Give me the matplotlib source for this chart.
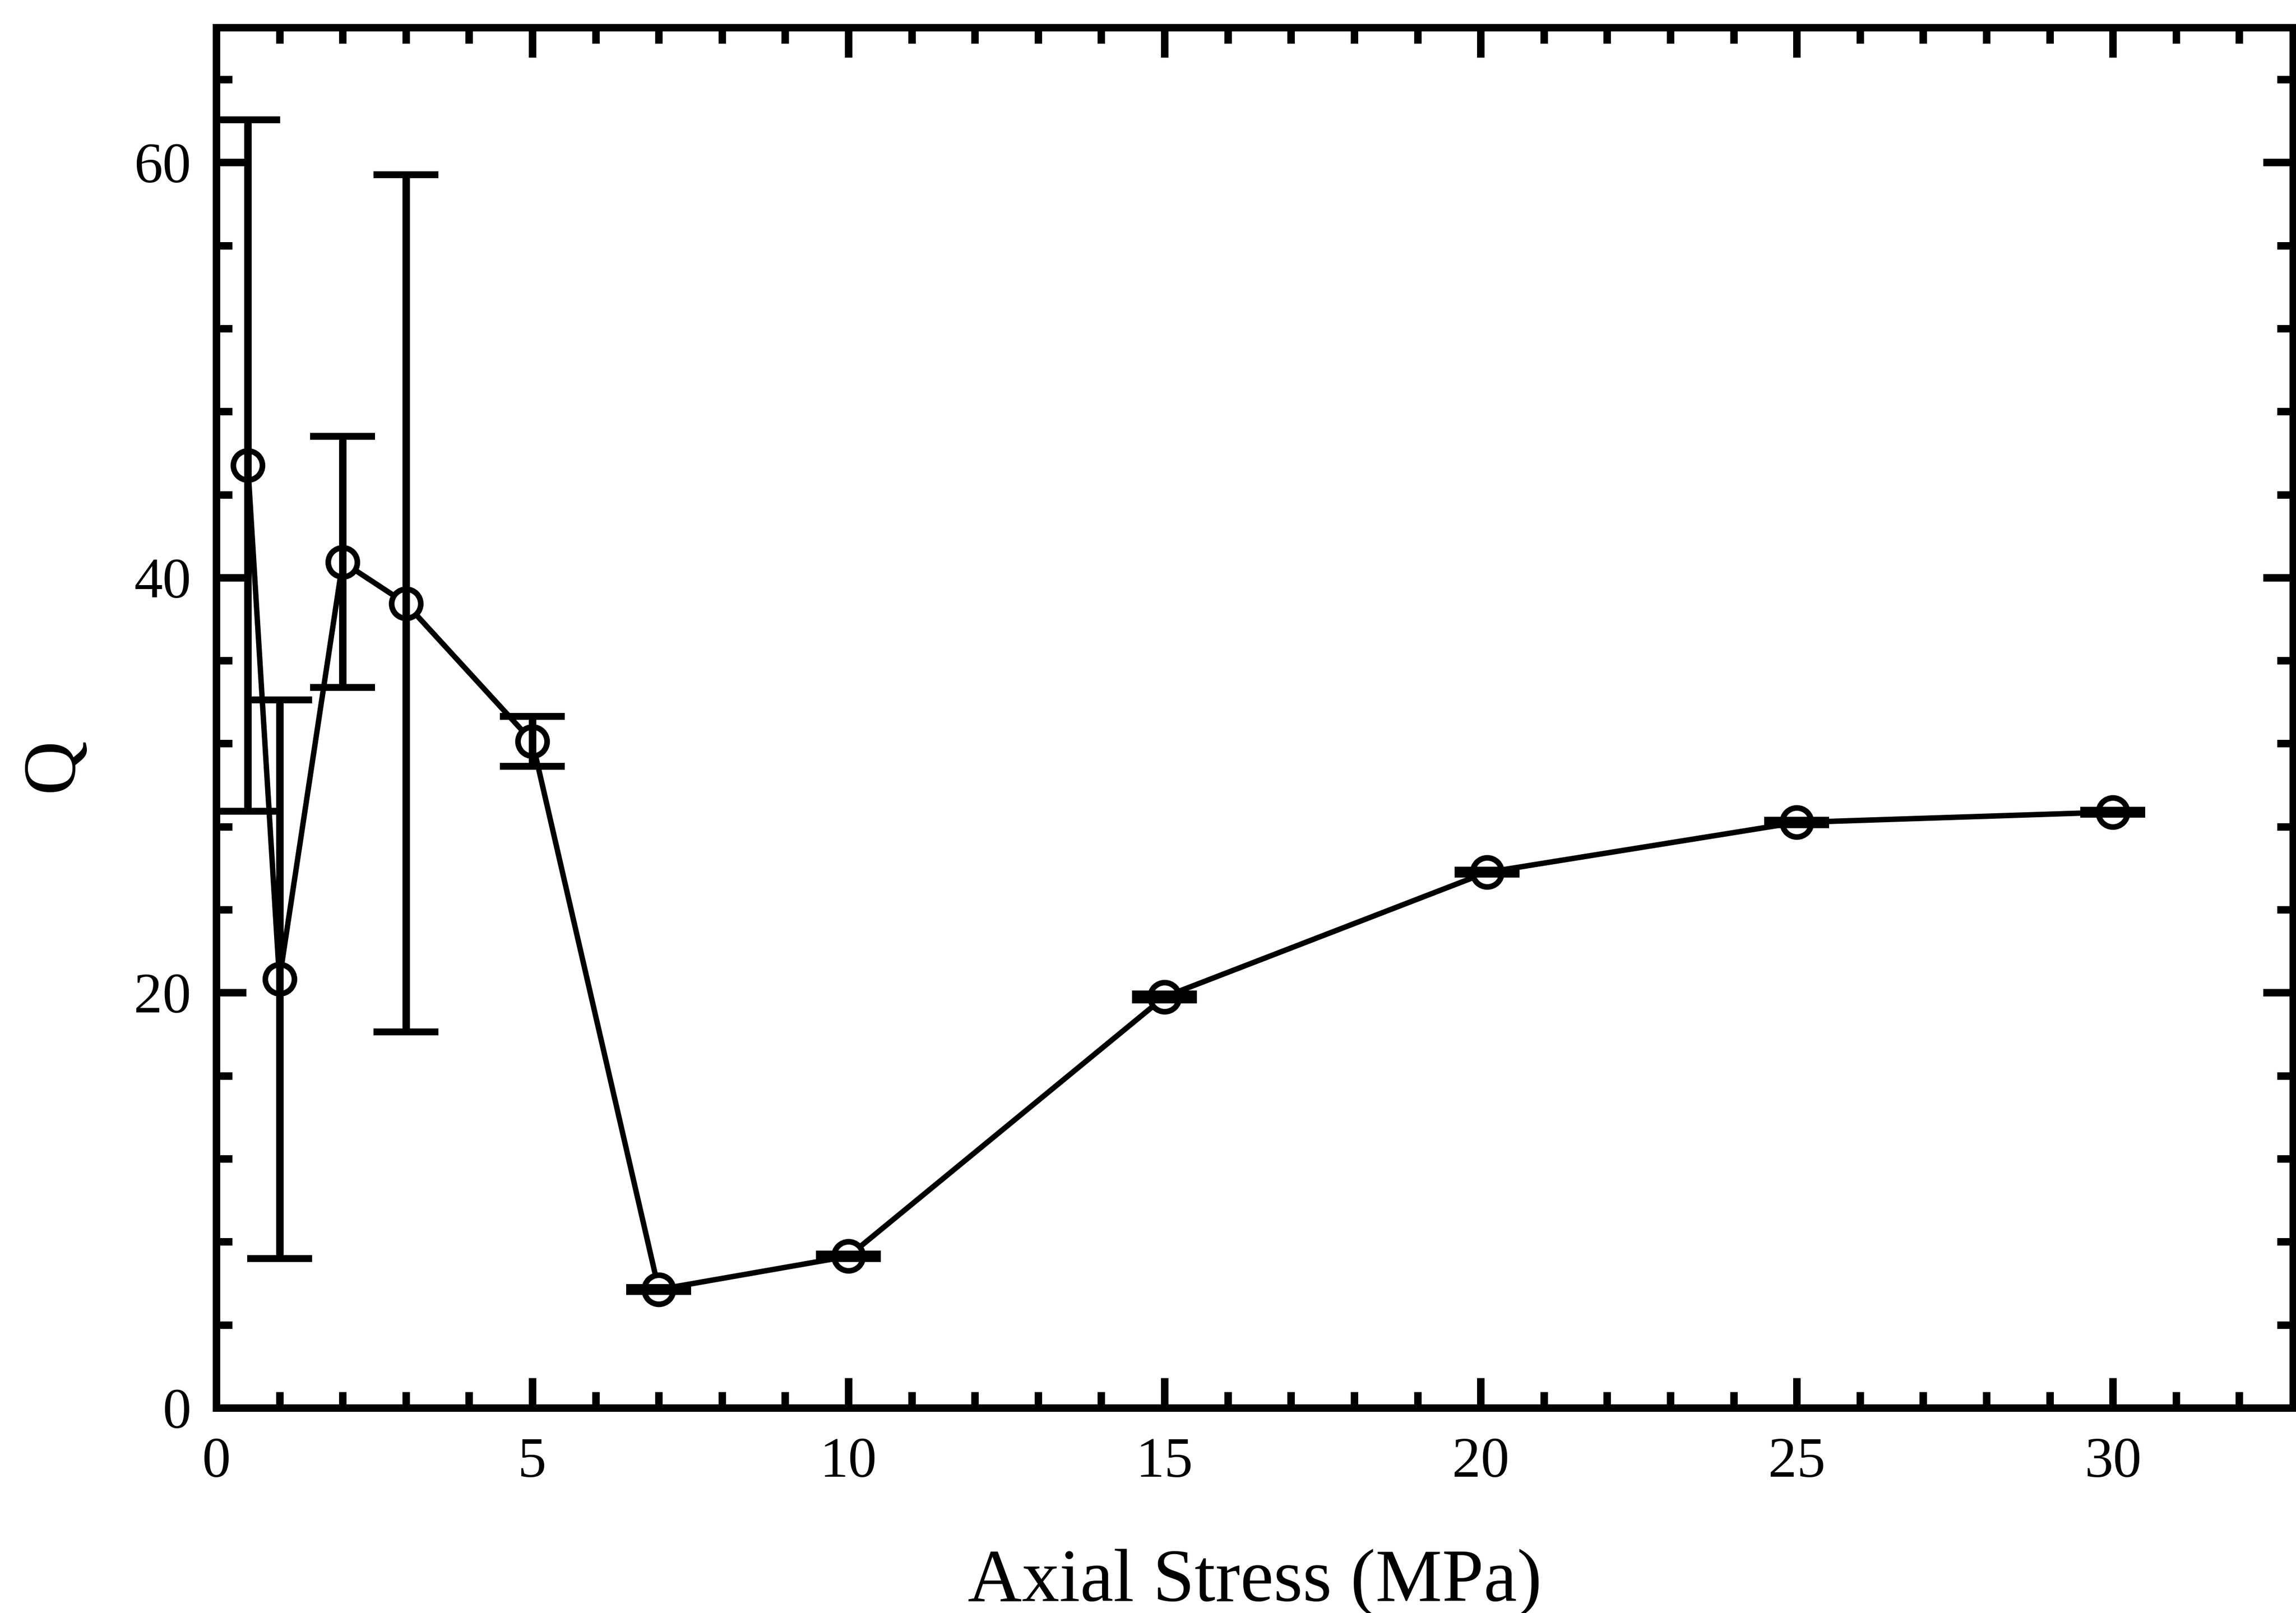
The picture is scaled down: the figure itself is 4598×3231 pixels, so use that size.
import matplotlib
matplotlib.use("Agg")
import matplotlib.pyplot as plt
from matplotlib.ticker import MultipleLocator

# ---- data ----
stress = [0.5, 1, 2, 3, 5, 7, 10, 15, 20.1, 25, 30]
q_vals = [45.4, 20.65, 40.75, 38.75, 32.1, 5.7, 7.3, 19.8, 25.8, 28.2, 28.7]
q_err = [16.65, 13.45, 6.05, 20.65, 1.2, 0.1, 0.1, 0.15, 0.1, 0.1, 0.1]

x_ticks = [0, 5, 10, 15, 20, 25, 30]
y_ticks = [0, 20, 40, 60]

plt.rcParams['font.family'] = ['Liberation Serif', 'DejaVu Serif']

W, H, DPI = 4598, 3231, 300
fig = plt.figure(figsize=(W / DPI, H / DPI), dpi=DPI)
left, right = 433 / W, 4592 / W
bottom, top = (H - 2820) / H, (H - 55) / H
ax = fig.add_axes([left, bottom, right - left, top - bottom])

ax.plot(stress, q_vals, '-', color='black', lw=2.6, zorder=2)
ax.plot(stress, q_vals, 'o', mfc='white', mec='black', ms=14, mew=2.7,
        zorder=3)
ax.errorbar(stress, q_vals, yerr=q_err, fmt='none', ecolor='black',
            elinewidth=3.6, capsize=15.6, capthick=3.3, zorder=4)

ax.set_xlim(0, 32.85)
ax.set_ylim(0, 66.5)
ax.set_xticks(x_ticks)
ax.set_xticklabels([str(v) for v in x_ticks])
ax.set_yticks(y_ticks)
ax.set_yticklabels([str(v) for v in y_ticks])
ax.xaxis.set_minor_locator(MultipleLocator(1))
ax.yaxis.set_minor_locator(MultipleLocator(4))

for s in ax.spines.values():
    s.set_linewidth(3.6)

ax.tick_params(which='both', direction='in', top=True, right=True,
               width=3.6, labelsize=27.5, colors='black')
ax.tick_params(which='major', length=14.4)
ax.tick_params(which='minor', length=7.7)
ax.tick_params(axis='x', which='major', pad=14)
ax.tick_params(axis='y', which='major', pad=12)

ax.set_xlabel('Axial Stress (MPa)', fontsize=36)
ax.xaxis.label.set_va('baseline')
ax.xaxis.set_label_coords(0.5, -0.14)

ax.set_ylabel('Q', fontsize=36)
ax.yaxis.label.set_va('center')
ax.yaxis.label.set_ha('center')
ax.yaxis.set_label_coords(-0.078, 0.466)

fig.savefig('out.png', dpi=DPI, facecolor='white')
